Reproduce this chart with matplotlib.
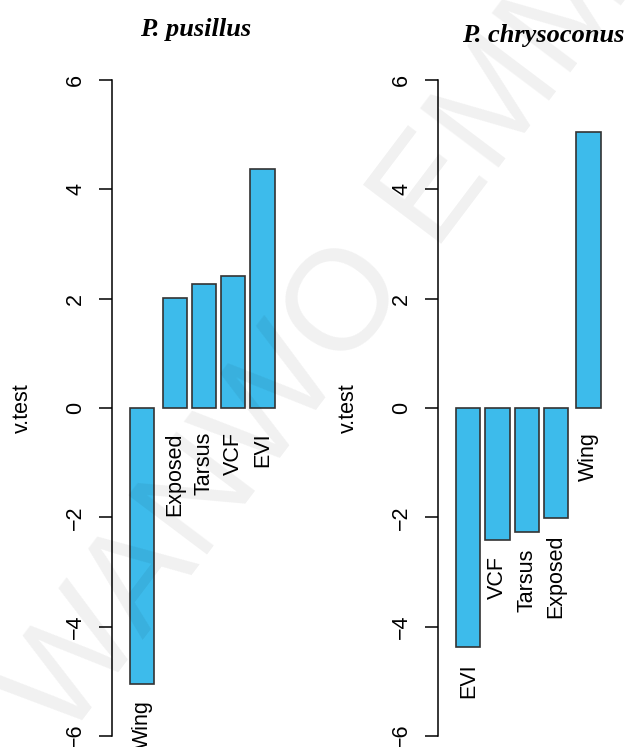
import numpy as np
import matplotlib
matplotlib.use("Agg")
import matplotlib.pyplot as plt

# v.test values of the five traits for each species
traits_pusillus = ["Wing", "Exposed", "Tarsus", "VCF", "EVI"]
vtest_pusillus = [-5.04, 2.01, 2.27, 2.41, 4.38]

traits_chrysoconus = ["EVI", "VCF", "Tarsus", "Exposed", "Wing"]
vtest_chrysoconus = [-4.38, -2.41, -2.27, -2.01, 5.04]

species = ["P. pusillus", "P. chrysoconus"]
yticks = [-6, -4, -2, 0, 2, 4, 6]

W, H = 626, 747
BAR_COLOR = "#3dbbeb"
EDGE_COLOR = "#333333"
TEXT_SIZE = 15.5

plt.rcParams["font.family"] = ["Liberation Sans", "DejaVu Sans"]
fig = plt.figure(figsize=(W / 100, H / 100), dpi=100)


def bar_positions(values, width=1.0, space=0.2, sign_gap=0.13):
    """Left edges of bars, with a small extra gap where the sign changes."""
    xs = []
    x = space
    prev = None
    for v in values:
        s = np.sign(v)
        if prev is not None:
            x += space
            if s != prev:
                x += sign_gap
        xs.append(x)
        x += width
        prev = s
    return np.array(xs)


def panel(left_px, traits, values, title, title_xy):
    ax_w = 180
    ax = fig.add_axes([left_px / W, 11 / H, ax_w / W, 656 / H])
    px_per_unit = 24.4
    lefts = bar_positions(values)
    centers = lefts + 0.5
    ax.bar(centers, values, width=1.0, color=BAR_COLOR, edgecolor=EDGE_COLOR,
           linewidth=1.2, zorder=2)
    x0 = lefts[0] - 0.74
    ax.set_xlim(x0, x0 + ax_w / px_per_unit)
    ax.set_ylim(-6, 6)

    for sp in ["top", "right", "bottom"]:
        ax.spines[sp].set_visible(False)
    ax.spines["left"].set_bounds(-6, 6)
    ax.spines["left"].set_linewidth(1.1)
    ax.set_xticks([])
    ax.set_yticks(yticks)
    ax.set_yticklabels([str(t).replace("-", "\u2212") for t in yticks],
                       rotation=90, va="center", fontsize=TEXT_SIZE)
    ax.tick_params(axis="y", length=9.5, width=1.1, pad=9, direction="out")

    ax.text(-90 / ax_w, 0.5, "v.test", transform=ax.transAxes, rotation=90,
            ha="center", va="center", fontsize=TEXT_SIZE)

    for c, v, name in zip(centers, values, traits):
        y = v - 0.3 if v < 0 else -0.44
        ax.text(c, y, name, rotation=90, ha="center", va="top",
                fontsize=TEXT_SIZE, clip_on=False)

    fig.text(title_xy[0] / W, 1 - title_xy[1] / H, title,
             family=["Liberation Serif", "DejaVu Serif"], weight="bold",
             style="italic", fontsize=19, ha="center", va="baseline")
    return ax


panel(112, traits_pusillus, vtest_pusillus, species[0], (196, 36))
panel(438, traits_chrysoconus, vtest_chrysoconus, species[1], (543, 42))

# faint diagonal watermark across the figure
fig.text(65 / W, 4 / H, "WANWO EMMA", rotation=53, rotation_mode="anchor",
         ha="left", va="baseline", fontsize=103, color="#000000", alpha=0.06,
         zorder=10)

fig.savefig("out.png", dpi=100)
